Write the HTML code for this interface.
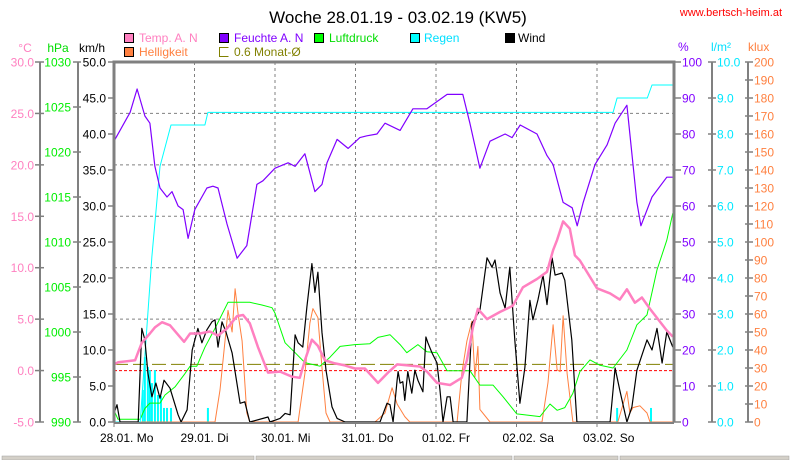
<!DOCTYPE html>
<html><head><meta charset="utf-8">
<style>
html,body{margin:0;padding:0;background:#fff;}
svg{display:block;font-family:"Liberation Sans",sans-serif;}
</style></head>
<body>
<svg id="chart" width="790" height="460" viewBox="0 0 790 460">
<rect x="0" y="0" width="790" height="460" fill="#fff"/>
<text x="398" y="23" font-size="17" text-anchor="middle" fill="#000">Woche 28.01.19 - 03.02.19 (KW5)</text>
<text x="782" y="16" font-size="11" text-anchor="end" fill="#ff0000">www.bertsch-heim.at</text>
<g font-size="12">
 <rect x="124.5" y="33.5" width="9" height="9" fill="#ff80c0" stroke="#000"/>
 <text x="139" y="42" fill="#ff80c0">Temp. A. N</text>
 <rect x="219.5" y="33.5" width="9" height="9" fill="#8000ff" stroke="#000"/>
 <text x="234" y="42" fill="#8000ff">Feuchte A. N</text>
 <rect x="314.5" y="33.5" width="9" height="9" fill="#00ff00" stroke="#000"/>
 <text x="329" y="42" fill="#00dd00">Luftdruck</text>
 <rect x="410.5" y="33.5" width="9" height="9" fill="#00ffff" stroke="#000"/>
 <text x="424" y="42" fill="#00e0ff">Regen</text>
 <rect x="505.5" y="33.5" width="9" height="9" fill="#000" stroke="#000"/>
 <text x="518" y="42" fill="#000">Wind</text>
 <rect x="124.5" y="47.5" width="9" height="9" fill="#ff8040" stroke="#000"/>
 <text x="139" y="56" fill="#ff8040">Helligkeit</text>
 <path d="M228.5 47.5 H219.5 V56.5 H228.5" fill="none" stroke="#808000"/>
 <text x="234" y="56" fill="#808000">0.6 Monat-Ø</text>
</g>
<g font-size="12">
 <text x="25" y="52" fill="#ff80c0" text-anchor="middle">°C</text>
 <text x="58" y="52" fill="#00dd00" text-anchor="middle">hPa</text>
 <text x="92" y="52" fill="#000" text-anchor="middle">km/h</text>
 <text x="678" y="51" fill="#8000ff">%</text>
 <text x="711" y="51" fill="#00e0ff">l/m²</text>
 <text x="748" y="51" fill="#ff8040">klux</text>
</g>
<g id="layer"></g>
</svg>
<script>
// ---- data (time in hours from 28.01. 00:00) ----
const dayLabels = ["28.01.  Mo","29.01.  Di","30.01.  Mi","31.01.  Do","01.02.  Fr","02.02.  Sa","03.02.  So"];
const tempTicks = ["30.0","25.0","20.0","15.0","10.0","5.0","0.0","-5.0"];
const pressTicks = ["1030","1025","1020","1015","1010","1005","1000","995","990"];
const windTicks = ["50.0","45.0","40.0","35.0","30.0","25.0","20.0","15.0","10.0","5.0","0.0"];
const humTicks = ["100","90","80","70","60","50","40","30","20","10","0"];
const rainTicks = ["10.0","9.0","8.0","7.0","6.0","5.0","4.0","3.0","2.0","1.0","0.0"];
const luxTicks = ["200","190","180","170","160","150","140","130","120","110","100","90","80","70","60","50","40","30","20","10","0"];

const humT = [0,4.8,6.9,9.2,10.7,12.2,13.7,15.8,17.3,19.1,20.6,22.1,24.1,27.7,29.5,31.0,33.7,36.7,39.6,42.6,44.4,48.0,51.9,54.0,56.9,59.9,62.0,63.5,66.5,69.8,73.3,75.4,78.4,80.8,85.3,89.1,93.3,99.3,104.0,106.1,109.1,112.1,116.6,118.7,121.1,126.1,129.1,130.9,133.9,136.6,138.1,139.9,143.4,147.0,149.4,152.9,155.9,157.1,160.4,164.8,166.6];
const humV = [78,86,92.5,85,83,71,65,62.5,64,60,59,51,59,65,65.5,65,55,45.5,49,66,67,70.5,72,71,74.5,64,66,72,78.5,76,79,79.5,80,83,81,87,87,91,91,83,70.5,78,80,79,82.5,80,74,71.5,61,59.5,54.5,61,71.5,77,83,88,61,54.5,62.5,68,68];

const tempT = [0,1.2,6.3,7.2,8.3,10.7,12.2,14.3,16.7,20.9,22.7,25.6,28.6,31.0,33.7,36.7,38.5,40.5,42.9,45.9,49.5,53.1,55.4,56.9,59.0,60.8,62.9,65.9,68.8,71.8,74.8,78.7,81.7,84.4,91.2,93.3,96.3,100.2,103.7,105.2,107.0,108.5,111.2,115.1,118.9,121.9,126.1,129.1,130.9,132.1,133.9,135.9,137.4,138.9,144.0,147.9,150.8,152.9,155.3,157.4,159.8,164.8,166.6];
const tempV = [0.6,0.8,1.0,1.8,2.7,3.6,4.2,4.7,4.4,2.8,3.6,3.6,3.8,3.4,4.1,5.3,5.4,4.6,2.3,-0.2,-0.1,-0.6,-0.7,1.0,3.0,2.4,1.0,0.7,0.5,0.2,0.2,-1.2,-0.2,0.6,0.4,-0.1,-1.2,-1.4,-0.7,1.0,4.2,6.0,5.0,5.7,6.3,8.1,8.9,9.6,11.7,12.7,14.5,13.8,11.2,10.7,8.0,7.5,6.9,7.9,6.6,7.1,6.0,3.9,3.3];

const pressT = [0,1.2,7.8,9.2,10.7,13.7,15.2,18.2,21.2,22.7,24.7,27.1,30.1,34.0,40.5,44.1,47.1,48.0,51.0,54.0,56.9,61.4,64.4,67.4,71.8,76.3,78.7,82.3,85.3,87.3,90.6,93.3,96.3,99.3,106.1,109.1,113.0,116.0,120.1,127.0,130.0,132.1,134.4,136.8,138.9,141.9,144.9,148.8,152.9,155.9,158.9,161.9,164.8,166.6];
const pressV = [991.3,990.3,990.3,991.5,992.1,992.1,993,993.9,995.4,996.2,996.2,998.3,1000.4,1003.3,1003.3,1003,1002.7,1002.1,998.8,997.7,996.6,996.2,997.2,998.4,998.6,998.7,999.4,999.7,998.6,997.7,998.6,997.8,997.7,995.7,995.7,994.1,994.1,992.8,990.9,990.6,992,991.3,991.6,993.2,995.6,996.9,996.3,996,998,1000.8,1001.9,1006.9,1010.2,1013.2];

const windT = [0,0.9,1.8,7.2,8.3,9.2,10.1,11.3,12.5,13.7,14.9,16.7,19.1,20.0,21.8,23.3,25.0,26.2,27.7,29.2,30.1,31.0,32.2,33.4,35.2,37.6,39.0,40.5,45.9,46.5,49.5,51.0,52.5,54.0,54.9,56.3,57.5,59.0,59.9,60.8,62.0,63.2,65.0,66.5,68.9,79.3,81.4,82.3,83.2,84.4,84.7,85.3,86.1,86.7,87.6,88.8,89.7,90.6,92.1,93.0,93.6,94.8,96.3,97.2,98.1,99.3,100.2,101.1,105.2,106.7,109.1,111.2,112.7,113.6,115.1,116.6,118.0,119.5,121.0,122.5,124.0,124.9,126.4,127.9,129.1,130.6,131.5,133.6,134.4,136.5,138.0,147.9,149.4,150.8,152.9,154.4,155.9,158.9,160.4,161.9,163.4,164.8,166.6];
const windV = [1.2,2.4,0,0,13,11.4,6.8,3.5,5.4,3.3,5.8,4.7,1,0,1.7,10,13,11,12.8,13.9,14.2,10.4,13.9,12.5,9.6,2.6,2.8,0,0.7,0,0.5,1.2,1,12.1,11,10.4,16,22,18,20.8,12.4,7.2,2.1,0.5,0,0,2.6,2.4,0,5.8,7,5.4,5.6,3,7,4,7.2,5.8,4.2,11.8,11,9.6,8.2,4.4,0,3.5,3.5,0,0,13.7,15.5,22.8,21.5,22.5,17.9,15.8,21.5,11.4,2.6,7.6,16.9,14.2,17,20.4,16.3,22.8,20.4,20.7,19.7,11.4,0,0,7.5,4.4,0,2.1,7.2,11.4,10,13,8.2,12.5,10.4];

const luxT = [0,30.1,31.6,33.1,34.0,35.2,36.1,37.0,38.2,39.6,40.5,54.9,56.9,58.4,59.3,60.8,62.0,63.2,64.4,77.8,80.8,82.9,84.4,86.7,88.2,102.3,103.7,105.2,106.7,107.6,108.5,109.1,112.1,127.6,129.4,130.9,132.1,133.0,133.9,135.1,136.5,136.8,150.2,152.9,153.8,154.7,156.8,158.9,159.8,166.6];
const luxV = [0,0,17.8,45,62,50,74,60,45,5,0,0,27,55,63,58,30,5,0,0,5,19,10,3,0,0,27,45,56,25,42,7,0,0,22,54,29,28,59,27,5,0,0,17,5,8,9,5,0,0];

const rainSumT = [0,7.8,11.3,13.7,17.0,27.1,28.0,148.8,150.0,159.0,160.4,166.6];
const rainSumV = [0,0,4.6,7.1,8.25,8.25,8.6,8.6,9.0,9.0,9.36,9.36];
const rainBarT = [8.6,9.2,10.1,10.7,11.3,12.2,13.1,14.0,14.9,15.8,17.0,28.0,150.0,160.1];
const rainBarV = [0.89,1.8,1.53,1.44,1.08,1.44,0.75,0.72,0.39,0.39,0.39,0.39,0.39,0.39];

const monthMean = 0.6;
const frostLine = 0;

// ---- scales ----
const X0=114, X1=673, YT=62, YB=422;
const xOf = h => X0 + h*(80.5/24);
const yKmh = v => YB - (v/50)*(YB-YT);
const yTemp = t => YB - ((t+5)/35)*(YB-YT);
const yPress = p => YB - ((p-990)/40)*(YB-YT);
const yHum = v => YB - (v/100)*(YB-YT);
const yRain = v => YB - (v/10)*(YB-YT);
const yLux = v => YB - (v/200)*(YB-YT);

const NS="http://www.w3.org/2000/svg";
const layer=document.getElementById('layer');
function mk(tag, attrs, parent){
  const e=document.createElementNS(NS,tag);
  for(const k in attrs) e.setAttribute(k, attrs[k]);
  (parent||layer).appendChild(e);
  return e;
}

// grid
for(let d=1; d<dayLabels.length; d++){
  const g=mk('line',{x1:xOf(d*24),x2:xOf(d*24),y1:YT,y2:YB,stroke:'#808080','stroke-dasharray':'3,3'});
  
  
}
for(let t=5; t<=25; t+=5){
  const g=mk('line',{x1:X0,x2:X1,y1:yTemp(t),y2:yTemp(t),stroke:'#808080','stroke-dasharray':'3,3'});
  
  
}
const fl=mk('line',{x1:X0,x2:X1,y1:yTemp(frostLine),y2:yTemp(frostLine),stroke:'#ff0000','stroke-dasharray':'3,2'});


const ml=mk('line',{x1:X0,x2:X1,y1:yTemp(monthMean),y2:yTemp(monthMean),stroke:'#808000','stroke-dasharray':'14,5'});



function line(ts, vs, yf, color, w, name){
  const pts=ts.map((t,i)=>xOf(t).toFixed(1)+','+yf(vs[i]).toFixed(1)).join(' ');
  const p=mk('polyline',{points:pts,fill:'none',stroke:color,'stroke-width':w,'stroke-linejoin':'round'});
  
  
}
// rain bars
rainBarT.forEach((t,i)=>{
  const y=yRain(rainBarV[i]);
  const r=mk('rect',{x:xOf(t)-1,y:y,width:2,height:YB-y,fill:'#00ffff'});
  
  
});
line(luxT,luxV,yLux,'#ff8040',1,'brightness-line');
line(pressT,pressV,yPress,'#00ff00',1,'pressure-line');
line(rainSumT,rainSumV,yRain,'#00ffff',1,'rain-sum-line');
line(humT,humV,yHum,'#8000ff',1.2,'humidity-line');
line(windT,windV,yKmh,'#000000',1.2,'wind-line');
line(tempT,tempV,yTemp,'#ff80c0',2.5,'temperature-line');

// plot frame
const fr=mk('path',{d:`M${X0} ${YB} V${YT} H${X1+1} V${YB}`,fill:'none',stroke:'#808080','stroke-width':3});


const bx=mk('line',{x1:X0,x2:X1+1,y1:YB+1,y2:YB+1,stroke:'#808080','stroke-width':2});



// day labels & ticks
dayLabels.forEach((lab,d)=>{
  const x=xOf(d*24);
  const tk=mk('line',{x1:x,x2:x,y1:YB,y2:YB+5,stroke:'#808080'});
  
  
  const t=mk('text',{x:x-14,y:442,'font-size':12,fill:'#000','xml:space':'preserve'});
  t.textContent=lab;
  
  
});

function axis(ticks, axisX, tickX1, tickX2, labelX, anchor, color, labelColor, name){
  const a=mk('line',{x1:axisX,x2:axisX,y1:YT,y2:YB,stroke:'#808080','stroke-width':2});
  
  
  const n=ticks.length-1;
  ticks.forEach((lab,i)=>{
    const y=YT+i*(YB-YT)/n;
    const tk=mk('line',{x1:tickX1,x2:tickX2,y1:y,y2:y,stroke:'#808080','stroke-width':1.5});
    
    
    const t=mk('text',{x:labelX,y:y+4.5,'font-size':12,fill:labelColor,'text-anchor':anchor});
    t.textContent=lab;
    
    
  });
}
axis(tempTicks,40,35,44,34,'end','#808080','#ff80c0','temperature');
axis(pressTicks,78,73,81,71,'end','#808080','#00ee00','pressure');
axis(windTicks,X0,108,X0,106,'end','#808080','#000','wind');
axis(humTicks,X1+1,X1,681,682,'start','#808080','#8000ff','humidity');
axis(rainTicks,712,708,716,717,'start','#808080','#00e8ff','rain');
axis(luxTicks,748,745,753,754,'start','#808080','#ff8040','brightness');

// bottom status strip
[[2,255],[256,513],[514,619],[620,790]].forEach(s=>{
  const r=mk('rect',{x:s[0],y:456,width:s[1]-s[0]-1,height:4,fill:'#d4d0c8',stroke:'#a0a0a0','stroke-width':0.5});
  
  
});
</script>
</body></html>
